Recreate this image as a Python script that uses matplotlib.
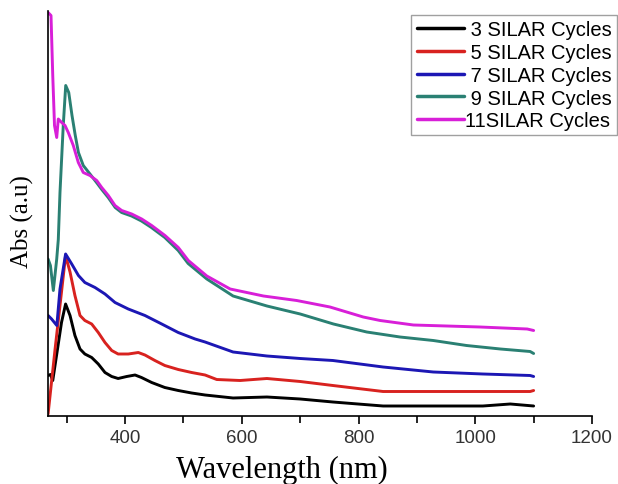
import matplotlib
matplotlib.use("Agg")
import matplotlib.pyplot as plt
from matplotlib.ticker import MultipleLocator

# Wavelength (nm) and absorbance (arbitrary units)
wl_3 = [268, 272, 276, 283, 291, 298, 305.6, 314, 322.7, 331, 342.7, 354, 365.5, 377, 388,
        402.7, 417, 428, 445.5, 468, 491, 514, 537, 585, 643, 700, 756, 842, 928, 1013, 1060, 1100]
abs_3 = [40, 41, 35, 62, 93, 111.5, 100, 80, 66.5, 61.5, 58, 51.5, 43, 39, 37,
         39, 40.5, 38, 33, 28, 25, 22.5, 20.5, 17.5, 18.5, 16.5, 13.5, 9.5, 9.5, 9.5, 11.5, 9.5]

wl_5 = [268, 280, 288.4, 298, 305.6, 314, 322.7, 331, 342.7, 354, 365.5, 377, 388, 405.5, 422.6,
        434, 451, 468, 491, 514, 537, 557, 597, 643, 700, 756, 842, 928, 1013, 1094, 1100]
abs_5 = [1.5, 66.5, 110, 160, 143.5, 120, 100, 95, 91.5, 83, 73, 65, 61.5, 61.5, 63,
         60.5, 55, 50, 46, 43, 40.5, 36, 35, 37, 34, 30, 24, 24, 24, 24, 25]

wl_7 = [268, 274, 283, 288.4, 298, 308.5, 320, 331, 348.4, 365.5, 382.7, 405.4, 434, 462.7, 491,
        520, 537, 585, 643, 700, 756, 842, 928, 1013, 1094, 1100]
abs_7 = [100, 96.5, 90, 126.5, 161.5, 151.5, 140, 133, 128, 121.5, 113, 106.5, 100, 91.5, 83,
         76.5, 73.5, 63.5, 59.5, 57, 55, 48.5, 43.5, 41.5, 40, 39]

wl_9 = [268, 272, 277, 282.8, 285.5, 288.4, 294, 298.2, 303.4, 309, 314.6, 320, 328.3, 339.8, 351,
        360, 371, 383, 394, 411, 428, 445, 468, 491, 508, 540, 585, 643, 700, 757, 814, 871, 928,
        985, 1043, 1094, 1100]
abs_9 = [156.5, 150, 125, 156.5, 176, 223, 290, 330, 323, 300, 280, 263, 250, 241.5, 233,
         226, 218, 208, 203, 199.5, 194.5, 188, 178, 165, 152, 136.5, 119.5, 109.5, 101.5, 91.5, 83.5,
         78.5, 75, 70, 66.5, 64, 62]

wl_11 = [268, 273, 276, 279, 282.8, 285.5, 291.3, 297, 302.6, 311.2, 319.8, 328.3, 339.8, 351.3, 359.9,
         371.2, 382.7, 394.1, 411.3, 428.4, 445.5, 468.3, 491.1, 508.3, 540, 580, 637, 694, 751, 808,
         837, 894, 951, 1008, 1089, 1100]
abs_11 = [403, 400, 340, 290, 278, 296.5, 293, 290, 283, 270, 253, 243, 240, 235, 228,
          220, 210, 205, 201.5, 196.5, 190, 180, 168, 155, 139.5, 126.5, 119.5, 115, 108.5, 98.5,
          95, 90.5, 89.5, 88.5, 86.5, 85]

labels = [" 3 SILAR Cycles", " 5 SILAR Cycles", " 7 SILAR Cycles", " 9 SILAR Cycles", "11SILAR Cycles"]
colors = ["#000000", "#d8221f", "#1c17b4", "#2a8073", "#d81fd8"]

W, H = 618, 485
fig = plt.figure(figsize=(W / 100, H / 100), dpi=100)
ax = fig.add_axes([47.5 / W, (H - 416.5) / H, (592 - 47.5) / W, (416.5 - 12) / H])

series = [(wl_3, abs_3), (wl_5, abs_5), (wl_7, abs_7), (wl_9, abs_9), (wl_11, abs_11)]
for (x, y), lab, c in zip(series, labels, colors):
    ax.plot(x, y, color=c, lw=2.1, label=lab, solid_joinstyle="round", solid_capstyle="round")

ax.set_xlim(267, 1200)
ax.set_ylim(0, 404.5)
ax.xaxis.set_major_locator(MultipleLocator(200))
ax.xaxis.set_minor_locator(MultipleLocator(100))
ax.set_yticks([])
for s in ["top", "right"]:
    ax.spines[s].set_visible(False)
for s in ["left", "bottom"]:
    ax.spines[s].set_linewidth(1.2)
ax.tick_params(axis="x", which="major", direction="out", length=6, width=1.2,
               labelsize=13.5, pad=4)
ax.tick_params(axis="x", which="minor", direction="out", length=5, width=1.2)
for t in ax.get_xticklabels():
    t.set_fontfamily("Liberation Sans")
    t.set_color("#333333")

ax.set_xlabel("Wavelength (nm)", fontsize=22, family="Liberation Serif")
ax.xaxis.set_label_coords((282 - 47.5) / (592 - 47.5), -(478 - 416.5) / (416.5 - 12))
ax.xaxis.label.set_va("baseline")
ax.set_ylabel("Abs (a.u)", fontsize=18, family="Liberation Serif", va="center")
ax.yaxis.set_label_coords(-(47.5 - 22) / (592 - 47.5), (416.5 - 222) / (416.5 - 12))

leg = ax.legend(loc="upper left", bbox_to_anchor=((411.5 - 47.5) / (592 - 47.5), (416.5 - 16) / (416.5 - 12)),
                frameon=True, fancybox=False, borderpad=0.25, labelspacing=0.19,
                handlelength=2.35, handletextpad=0.05, borderaxespad=0,
                prop={"family": "Liberation Sans", "size": 14.5})
leg.get_frame().set_edgecolor("#888888")
leg.get_frame().set_linewidth(1.0)
for line in leg.get_lines():
    line.set_linewidth(2.5)

fig.savefig("out.png", dpi=100)
